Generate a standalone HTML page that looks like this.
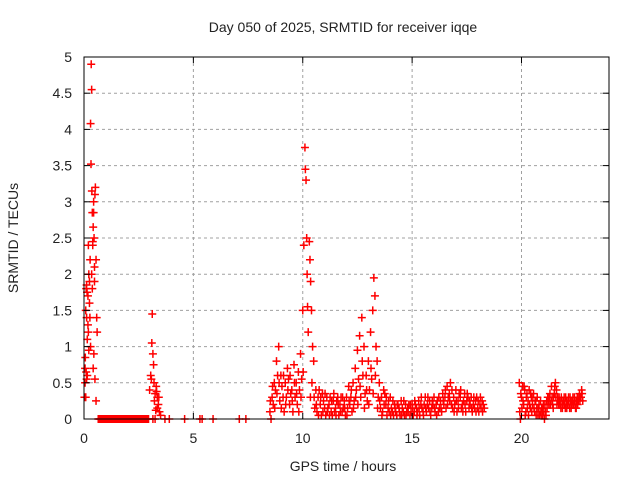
<!DOCTYPE html>
<html><head><meta charset="utf-8"><style>
body{margin:0;background:#fff;}
svg text{font-family:"Liberation Sans",sans-serif;fill:#222;}
</style></head><body>
<svg id="chart" width="640" height="480">
<text x="343" y="32" font-size="14" text-anchor="middle">Day 050 of 2025, SRMTID for receiver iqqe</text>
<text x="343" y="471" font-size="14" text-anchor="middle">GPS time / hours</text>
<text x="0" y="0" font-size="14" text-anchor="middle" transform="translate(18,238) rotate(-90)">SRMTID / TECUs</text>
<g id="grid"></g><g id="marks"></g><g id="axes"></g>
</svg>
<script>
const xTicks=[0,5,10,15,20];
const yTicks=[0,0.5,1,1.5,2,2.5,3,3.5,4,4.5,5];
const yTickLabels=["0","0.5","1","1.5","2","2.5","3","3.5","4","4.5","5"];
const spikeStart=[[0.05,0.7],[0.08,0.3],[0.1,1.8],[0.12,1.4],[0.15,0.6],[0.18,1.7],[0.2,1.2],[0.22,2.0],[0.25,1.9],[0.28,2.2],[0.3,4.08],[0.32,3.52],[0.33,4.9],[0.35,4.55],[0.36,3.15],[0.38,2.85],[0.4,2.45],[0.42,2.65],[0.44,3.0],[0.46,2.5],[0.48,2.1],[0.5,3.1],[0.52,3.2],[0.55,2.2],[0.58,1.4],[0.6,1.2],[0.45,0.9],[0.42,0.7],[0.5,0.55],[0.55,0.25],[0.3,1.0],[0.25,1.6],[0.2,2.4],[0.38,1.8],[0.48,1.9],[0.15,1.1],[0.05,0.5],[0.1,0.65],[0.02,0.3],[0.12,1.85],[0.14,1.75],[0.08,1.5],[0.18,1.3],[0.22,0.95],[0.27,1.4],[0.4,2.4],[0.44,2.85],[0.35,2.0],[0.12,0.55],[0.06,0.85]];
const zeroRun=[0.65,0.7,0.75,0.8,0.85,0.9,0.95,1.0,1.05,1.1,1.15,1.2,1.25,1.3,1.35,1.4,1.45,1.5,1.55,1.6,1.65,1.7,1.75,1.8,1.85,1.9,1.95,2.0,2.05,2.1,2.15,2.2,2.25,2.3,2.35,2.4,2.45,2.5,2.55,2.6,2.65,2.7,2.75,2.8,2.85,2.9,2.95,3.15,3.25,3.7,3.9,4.6,5.3,5.4,5.9,7.1,7.4,19.95,21.05];
const spikeB=[[3.0,0.4],[3.05,0.6],[3.1,1.05],[3.12,1.45],[3.15,0.9],[3.18,0.75],[3.2,0.5],[3.25,0.35],[3.3,0.45],[3.35,0.3],[3.4,0.2],[3.45,0.1],[3.5,0.05],[3.35,0.15],[3.08,0.55],[3.22,0.25],[3.28,0.12],[3.32,0.38],[3.42,0.3]];
const dense1=[[8.5,0.1],[8.6,0.3],[8.7,0.5],[8.8,0.8],[8.9,1.0],[9.0,0.6],[9.1,0.3],[9.2,0.5],[9.3,0.7],[9.4,0.2],[9.5,0.4],[9.6,0.75],[9.7,0.5],[9.8,0.65],[9.9,0.9],[10.0,1.5],[10.05,2.4],[10.1,3.75],[10.12,3.45],[10.15,3.3],[10.18,2.5],[10.2,2.0],[10.22,1.55],[10.25,1.2],[10.3,2.45],[10.33,2.2],[10.36,1.9],[10.4,1.5],[10.45,1.0],[10.5,0.8],[10.6,0.4],[10.7,0.3],[10.8,0.2],[10.9,0.35],[11.0,0.15],[11.1,0.3],[11.2,0.2],[11.3,0.1],[11.4,0.25],[11.5,0.15],[11.6,0.3],[11.7,0.2],[11.8,0.1],[11.9,0.25],[12.0,0.3],[12.1,0.45],[12.2,0.3],[12.3,0.5],[12.4,0.7],[12.5,0.95],[12.6,1.15],[12.7,1.4],[12.8,1.0],[12.9,0.6],[13.0,0.8],[13.1,1.2],[13.2,1.5],[13.25,1.95],[13.3,1.7],[13.35,1.0],[13.4,0.8],[13.5,0.5],[13.6,0.3],[13.7,0.4],[13.8,0.2],[13.9,0.15],[14.0,0.3],[14.1,0.1],[14.2,0.2],[14.3,0.05],[14.4,0.15],[14.5,0.25],[14.6,0.1],[14.7,0.2],[14.8,0.15],[14.9,0.05],[15.0,0.2],[15.1,0.1],[15.2,0.15],[15.3,0.25],[15.4,0.2],[15.5,0.1],[15.6,0.3],[15.7,0.2],[15.8,0.25],[15.9,0.15],[16.0,0.3],[16.1,0.2],[16.2,0.1],[16.3,0.25],[16.4,0.35],[16.5,0.3],[16.6,0.45],[16.7,0.35],[16.8,0.2],[16.9,0.3],[17.0,0.4],[17.1,0.25],[17.2,0.3],[17.3,0.2],[17.4,0.35],[17.5,0.25],[17.6,0.15],[17.7,0.3],[17.8,0.2],[17.9,0.25],[18.0,0.15],[18.1,0.2],[18.2,0.25],[18.3,0.15]];
const dense2=[[8.55,0.0],[8.65,0.2],[8.75,0.4],[8.85,0.6],[8.95,0.25],[9.05,0.45],[9.15,0.1],[9.25,0.3],[9.35,0.55],[9.45,0.35],[9.55,0.1],[9.65,0.3],[9.75,0.2],[9.85,0.4],[9.95,0.55],[10.35,0.3],[10.55,0.15],[10.65,0.1],[10.75,0.4],[10.85,0.05],[10.95,0.25],[11.05,0.05],[11.15,0.15],[11.25,0.3],[11.35,0.05],[11.45,0.1],[11.55,0.25],[11.65,0.05],[11.75,0.3],[11.85,0.15],[11.95,0.05],[12.05,0.15],[12.15,0.2],[12.25,0.1],[12.35,0.25],[12.45,0.4],[12.55,0.55],[12.65,0.3],[12.75,0.6],[12.85,0.35],[12.95,0.25],[13.05,0.4],[13.15,0.55],[13.45,0.3],[13.55,0.15],[13.65,0.1],[13.75,0.35],[13.85,0.05],[13.95,0.1],[14.05,0.15],[14.15,0.05],[14.25,0.1],[14.35,0.2],[14.45,0.05],[14.55,0.15],[14.65,0.05],[14.75,0.1],[14.85,0.2],[14.95,0.1],[15.05,0.05],[15.15,0.2],[15.25,0.1],[15.35,0.05],[15.45,0.15],[15.55,0.2],[15.65,0.1],[15.75,0.15],[15.85,0.05],[15.95,0.2],[16.05,0.1],[16.15,0.25],[16.25,0.15],[16.35,0.1],[16.45,0.2],[16.55,0.15],[16.65,0.3],[16.75,0.5],[16.85,0.15],[16.95,0.2],[17.05,0.1],[17.15,0.35],[17.25,0.15],[17.35,0.25],[17.45,0.1],[17.55,0.3],[17.65,0.2],[17.75,0.1],[17.85,0.15],[17.95,0.3],[18.05,0.1],[18.15,0.15],[18.25,0.2]];
const dense4=[[8.52,0.25],[8.62,0.45],[8.72,0.15],[8.82,0.35],[8.92,0.5],[9.02,0.15],[9.12,0.6],[9.22,0.2],[9.32,0.4],[9.42,0.6],[9.52,0.25],[9.62,0.5],[9.72,0.35],[9.82,0.1],[9.92,0.3],[10.02,0.65],[10.42,0.5],[10.52,0.3],[10.62,0.2],[10.72,0.05],[10.82,0.3],[10.92,0.1],[11.02,0.35],[11.12,0.1],[11.22,0.05],[11.32,0.25],[11.42,0.35],[11.52,0.05],[11.62,0.2],[11.72,0.1],[11.82,0.3],[11.92,0.15],[12.02,0.05],[12.12,0.25],[12.22,0.4],[12.32,0.15],[12.42,0.3],[12.52,0.2],[12.62,0.45],[12.72,0.8],[12.82,0.15],[12.92,0.4],[13.02,0.2],[13.12,0.7],[13.22,0.35],[13.32,0.6],[13.42,0.15],[13.52,0.25],[13.62,0.05],[13.72,0.2],[13.82,0.3],[13.92,0.25],[14.02,0.05],[14.12,0.25],[14.22,0.15],[14.32,0.2],[14.42,0.1],[14.52,0.05],[14.62,0.25],[14.72,0.05],[14.82,0.1],[14.92,0.2],[15.02,0.15],[15.12,0.25],[15.22,0.05],[15.32,0.15],[15.42,0.3],[15.52,0.05],[15.62,0.15],[15.72,0.3],[15.82,0.1],[15.92,0.25],[16.02,0.15],[16.12,0.05],[16.22,0.3],[16.32,0.15],[16.42,0.25],[16.52,0.4],[16.62,0.2],[16.72,0.25],[16.82,0.4],[16.92,0.1],[17.02,0.25],[17.12,0.15],[17.22,0.4],[17.32,0.1],[17.42,0.2],[17.52,0.35],[17.62,0.25],[17.72,0.15],[17.82,0.3],[17.92,0.1],[18.02,0.25],[18.12,0.3],[18.22,0.1]];
const dense3=[[19.9,0.5],[20.0,0.3],[20.05,0.45],[20.1,0.2],[20.15,0.4],[20.2,0.1],[20.25,0.35],[20.3,0.25],[20.35,0.4],[20.4,0.15],[20.45,0.3],[20.5,0.2],[20.55,0.35],[20.6,0.1],[20.65,0.25],[20.7,0.15],[20.75,0.05],[20.8,0.2],[20.85,0.1],[20.9,0.05],[20.95,0.15],[21.0,0.2],[21.1,0.1],[21.15,0.25],[21.2,0.3],[21.25,0.2],[21.3,0.35],[21.35,0.25],[21.4,0.3],[21.45,0.15],[21.5,0.35],[21.55,0.5],[21.6,0.4],[21.65,0.3],[21.7,0.2],[21.75,0.25],[21.8,0.15],[21.85,0.25],[21.9,0.2],[21.95,0.3],[22.0,0.15],[22.05,0.25],[22.1,0.2],[22.15,0.3],[22.2,0.15],[22.25,0.25],[22.3,0.2],[22.35,0.3],[22.4,0.2],[22.45,0.25],[22.5,0.15],[22.55,0.3],[22.6,0.25],[22.65,0.35],[22.7,0.3],[22.75,0.4],[22.8,0.25]];
const dense5=[[19.92,0.1],[19.97,0.35],[20.02,0.15],[20.07,0.25],[20.12,0.45],[20.17,0.05],[20.22,0.3],[20.27,0.15],[20.32,0.05],[20.37,0.2],[20.42,0.35],[20.47,0.1],[20.52,0.3],[20.57,0.15],[20.62,0.25],[20.67,0.05],[20.72,0.3],[20.77,0.15],[20.82,0.05],[20.87,0.25],[20.92,0.15],[20.97,0.05],[21.02,0.1],[21.07,0.2],[21.12,0.05],[21.17,0.15],[21.22,0.25],[21.27,0.3],[21.32,0.2],[21.37,0.45],[21.42,0.2],[21.47,0.3],[21.52,0.45],[21.57,0.3],[21.62,0.2],[21.67,0.25],[21.72,0.3],[21.77,0.2],[21.82,0.3],[21.87,0.15],[21.92,0.25],[21.97,0.2],[22.02,0.3],[22.07,0.15],[22.12,0.25],[22.17,0.2],[22.22,0.3],[22.27,0.15],[22.32,0.25],[22.37,0.2],[22.42,0.3],[22.47,0.15],[22.52,0.25],[22.57,0.2],[22.62,0.3],[22.67,0.25],[22.72,0.3],[22.77,0.35]];

const L=84,R=609,T=57,B=419,XMAX=24,YMAX=5;
const xs=v=>L+(R-L)*v/XMAX;
const ys=v=>B-(B-T)*v/YMAX;
const NS="http://www.w3.org/2000/svg";
function mk(tag,attrs,parent){const e=document.createElementNS(NS,tag);for(const k in attrs)e.setAttribute(k,attrs[k]);parent.appendChild(e);return e;}
const grid=document.getElementById('grid'),axes=document.getElementById('axes'),marks=document.getElementById('marks');
yTicks.forEach((v,i)=>{
  const y=ys(v);
  if(v>0&&v<YMAX){const g=mk('line',{x1:L,x2:R,y1:y,y2:y,stroke:'#a0a0a0','stroke-dasharray':'3,3'},grid);
  
  }
  mk('line',{x1:L,x2:L+6,y1:y,y2:y,stroke:'#000'},axes);
  mk('line',{x1:R-6,x2:R,y1:y,y2:y,stroke:'#000'},axes);
  const t=mk('text',{x:72,y:y+5,'font-size':14,'text-anchor':'end'},axes);
  t.textContent=yTickLabels[i];
  
  
});
xTicks.forEach(v=>{
  const x=xs(v);
  if(v>0){const g=mk('line',{x1:x,x2:x,y1:T,y2:B,stroke:'#a0a0a0','stroke-dasharray':'3,3'},grid);
  
  }
  mk('line',{x1:x,x2:x,y1:B,y2:B-6,stroke:'#000'},axes);
  mk('line',{x1:x,x2:x,y1:T,y2:T+6,stroke:'#000'},axes);
  const t=mk('text',{x:x,y:443,'font-size':14,'text-anchor':'middle'},axes);
  t.textContent=String(v);
  
  
});
const frame=mk('rect',{x:L,y:T,width:R-L,height:B-T,fill:'none',stroke:'#000'},axes);


function plus(t,v){
  const x=xs(t),y=ys(v);
  const p=mk('path',{d:`M${x-4},${y}H${x+4}M${x},${y-4}V${y+4}`,stroke:'#f00','stroke-width':1.5,fill:'none'},marks);
  
  
}
[spikeStart,spikeB,dense1,dense2,dense4,dense3,dense5].forEach(s=>s.forEach(d=>plus(d[0],d[1])));
zeroRun.forEach(t=>plus(t,0));
</script>
</body></html>
